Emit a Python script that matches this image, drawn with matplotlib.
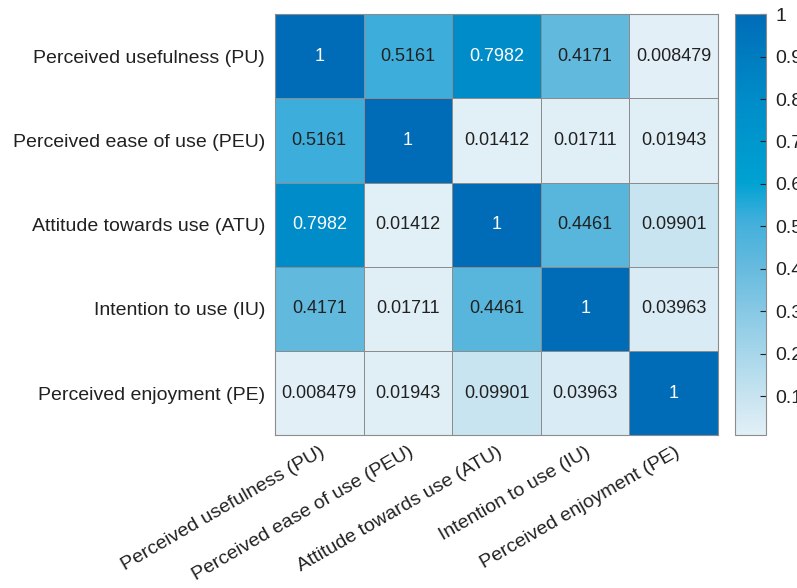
import numpy as np
import matplotlib
matplotlib.use("Agg")
import matplotlib.pyplot as plt
from matplotlib.colors import LinearSegmentedColormap

labels = ["Perceived usefulness (PU)", "Perceived ease of use (PEU)",
          "Attitude towards use (ATU)", "Intention to use (IU)",
          "Perceived enjoyment (PE)"]
row_pu = [1, 0.5161, 0.7982, 0.4171, 0.008479]
row_peu = [0.5161, 1, 0.01412, 0.01711, 0.01943]
row_atu = [0.7982, 0.01412, 1, 0.4461, 0.09901]
row_iu = [0.4171, 0.01711, 0.4461, 1, 0.03963]
row_pe = [0.008479, 0.01943, 0.09901, 0.03963, 1]
value_text = [["1", "0.5161", "0.7982", "0.4171", "0.008479"],
              ["0.5161", "1", "0.01412", "0.01711", "0.01943"],
              ["0.7982", "0.01412", "1", "0.4461", "0.09901"],
              ["0.4171", "0.01711", "0.4461", "1", "0.03963"],
              ["0.008479", "0.01943", "0.09901", "0.03963", "1"]]
cbar_ticks = [0.1, 0.2, 0.3, 0.4, 0.5, 0.6, 0.7, 0.8, 0.9, 1]
cbar_labels = ["0.1", "0.2", "0.3", "0.4", "0.5", "0.6", "0.7", "0.8", "0.9", "1"]

plt.rcParams['font.family'] = ['Liberation Sans', 'DejaVu Sans']

mat = np.array([row_pu, row_peu, row_atu, row_iu, row_pe])
vmin = mat.min()
txt_col = (0.13, 0.13, 0.13)
grid_col = (0.55, 0.55, 0.55)

# MATLAB-like blue heatmap colormap (picked by eye)
cmap = LinearSegmentedColormap.from_list("sky", [
    (0.0, (226/255, 239/255, 247/255)),
    (0.09, (200/255, 228/255, 240/255)),
    (0.41, (98/255, 185/255, 222/255)),
    (0.51, (64/255, 175/255, 220/255)),
    (0.6, (0/255, 162/255, 210/255)),
    (0.8, (0/255, 140/255, 200/255)),
    (1.0, (0/255, 108/255, 184/255))])

fig = plt.figure(figsize=(7.97, 5.88), dpi=100)
ax = fig.add_axes([0.345, 0.260, 0.556, 0.716])
cax = fig.add_axes([0.922, 0.260, 0.039, 0.716])

im = ax.pcolormesh(mat, cmap=cmap, vmin=vmin, vmax=1,
                   edgecolor=grid_col, linewidth=0.7)
ax.set_xlim(0, 5)
ax.set_ylim(5, 0)

for i in range(5):
    for j in range(5):
        c = "white" if mat[i, j] > 0.7 else txt_col
        ax.text(j + 0.5, i + 0.5, value_text[i][j], ha="center", va="center",
                fontsize=13, color=c)

ax.set_xticks(np.arange(5) + 0.5)
ax.set_yticks(np.arange(5) + 0.5)
ax.set_xticklabels(labels, rotation=30, ha="right", rotation_mode="anchor",
                   fontsize=14, color=txt_col)
ax.set_yticklabels(labels, fontsize=14, color=txt_col)
ax.tick_params(axis="y", length=0, pad=7)
ax.tick_params(axis="x", length=0, pad=6)
for s in ax.spines.values():
    s.set_color(grid_col)
    s.set_linewidth(0.8)

cb = fig.colorbar(im, cax=cax, ticks=cbar_ticks)
cb.ax.set_yticklabels(cbar_labels)
cb.ax.tick_params(direction="in", length=4, width=0.8, labelsize=14,
                  colors=txt_col, pad=7)
cb.outline.set_edgecolor(grid_col)
cb.outline.set_linewidth(0.8)

fig.savefig("out.png", dpi=100)
